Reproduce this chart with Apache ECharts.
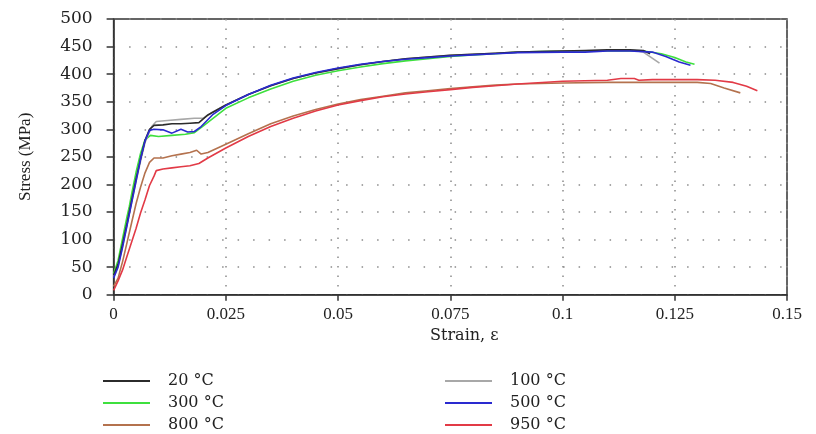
<!DOCTYPE html>
<html>
<head>
<meta charset="utf-8">
<script src="https://cdn.jsdelivr.net/npm/echarts@6/dist/echarts.min.js"></script>
<style>
html,body{margin:0;padding:0;background:#fff;}
#chart{width:816px;height:434px;}
</style>
</head>
<body>
<div id="chart"></div>
<script>
// ---- data (strain, stress MPa) ----
var seriesNames = ['20 °C', '100 °C', '300 °C', '500 °C', '800 °C', '950 °C'];
var seriesColors = ['#2b2b2b', '#a8a8a8', '#3ee03e', '#2a2ad0', '#b4724e', '#e23a46'];

var s20 = [[0,35],[0.001,55],[0.002,92],[0.003,130],[0.004,170],[0.005,210],[0.006,246],[0.007,280],[0.008,300],[0.009,307],[0.011,308],[0.013,310],[0.015,310],[0.017,311],[0.019,312],[0.021,326],[0.025,344],[0.03,363],[0.035,379],[0.04,392],[0.045,402],[0.05,410],[0.055,417],[0.06,423],[0.065,428],[0.07,431],[0.075,434],[0.08,436],[0.085,438],[0.09,440],[0.095,441],[0.1,442],[0.105,443],[0.11,444],[0.115,444],[0.118,443],[0.1195,437]];
var s100 = [[0,33],[0.001,52],[0.002,88],[0.003,127],[0.004,166],[0.005,205],[0.006,242],[0.007,276],[0.0085,305],[0.0095,314],[0.012,316],[0.015,318],[0.018,320],[0.02,320],[0.022,331],[0.025,344],[0.03,363],[0.035,379],[0.04,392],[0.045,402],[0.05,410],[0.055,417],[0.06,423],[0.065,428],[0.07,431],[0.075,434],[0.08,436],[0.085,438],[0.09,440],[0.1,442],[0.11,443],[0.116,443],[0.118,440],[0.1216,420]];
var s300 = [[0,38],[0.001,62],[0.002,102],[0.003,142],[0.0035,160],[0.004,182],[0.005,222],[0.006,256],[0.007,281],[0.0082,289],[0.01,287],[0.013,289],[0.016,291],[0.018,294],[0.02,306],[0.025,338],[0.03,357],[0.035,373],[0.04,387],[0.045,398],[0.05,406],[0.055,413],[0.06,419],[0.065,424],[0.07,428],[0.075,432],[0.08,435],[0.085,437],[0.09,440],[0.1,442],[0.11,442],[0.118,442],[0.122,437],[0.125,430],[0.1275,422],[0.1294,418]];
var s500 = [[0,30],[0.001,50],[0.002,86],[0.003,126],[0.004,166],[0.005,206],[0.006,246],[0.007,279],[0.008,298],[0.009,300],[0.011,299],[0.013,293],[0.015,300],[0.0165,295],[0.018,296],[0.0195,305],[0.022,326],[0.025,343],[0.03,363],[0.035,380],[0.04,393],[0.045,403],[0.05,411],[0.055,418],[0.06,423],[0.065,427],[0.07,430],[0.075,433],[0.08,435],[0.085,437],[0.09,439],[0.1,440],[0.105,440],[0.11,442],[0.115,442],[0.12,440],[0.123,432],[0.126,422],[0.1285,416]];
var s800 = [[0,15],[0.001,30],[0.002,60],[0.003,95],[0.004,130],[0.005,165],[0.006,195],[0.007,221],[0.008,240],[0.009,248],[0.011,248],[0.013,252],[0.015,255],[0.017,258],[0.0185,262],[0.0195,255],[0.021,258],[0.025,273],[0.03,292],[0.035,310],[0.04,324],[0.045,336],[0.05,346],[0.055,354],[0.06,360],[0.065,366],[0.07,370],[0.075,374],[0.08,377],[0.085,380],[0.09,382],[0.1,384],[0.11,385],[0.12,385],[0.13,385],[0.133,383],[0.136,375],[0.1396,366]];
var s950 = [[0,8],[0.001,25],[0.002,45],[0.003,70],[0.004,95],[0.005,120],[0.006,148],[0.007,172],[0.008,198],[0.009,215],[0.0095,225],[0.011,228],[0.013,230],[0.015,232],[0.017,234],[0.019,238],[0.021,248],[0.025,266],[0.03,287],[0.035,305],[0.04,320],[0.045,333],[0.05,344],[0.055,352],[0.06,359],[0.065,364],[0.07,368],[0.075,372],[0.08,376],[0.085,379],[0.09,382],[0.1,387],[0.11,389],[0.113,392],[0.116,392],[0.117,389],[0.12,390],[0.125,390],[0.13,390],[0.134,389],[0.138,385],[0.141,378],[0.1434,370]];

var xTickLabels = ['0', '0.025', '0.05', '0.075', '0.1', '0.125', '0.15'];
var yTickLabels = ['0','50','100','150','200','250','300','350','400','450','500'];

var dataByName = {'20 °C': s20, '100 °C': s100, '300 °C': s300, '500 °C': s500, '800 °C': s800, '950 °C': s950};
var drawOrder = ['300 °C', '100 °C', '20 °C', '500 °C', '800 °C', '950 °C'];

var chart = echarts.init(document.getElementById('chart'), null, {renderer: 'canvas'});

var series = drawOrder.map(function (n) {
  var idx = seriesNames.indexOf(n);
  return {
    name: n,
    type: 'line',
    data: dataByName[n],
    symbol: 'none',
    showSymbol: false,
    smooth: false,
    animation: false,
    color: seriesColors[idx],
    lineStyle: {width: 1.6, color: seriesColors[idx]}
  };
});

function legendCfg(names, left) {
  return {
    orient: 'vertical',
    left: left,
    top: 373,
    height: 61,
    padding: 0,
    data: names,
    icon: 'rect',
    itemWidth: 47,
    itemHeight: 2,
    itemGap: 6,
    textStyle: {fontFamily: 'DejaVu Serif', fontSize: 16, color: '#222', lineHeight: 16, padding: [0, 0, 0, 13]},
    selectedMode: false
  };
}

chart.setOption({
  animation: false,
  backgroundColor: '#fff',
  grid: {left: 113.6, right: 29, top: 19, bottom: 139.3, show: true, borderColor: '#333', borderWidth: 1.5, containLabel: false},
  legend: [
    legendCfg(['20 °C', '300 °C', '800 °C'], 103),
    legendCfg(['100 °C', '500 °C', '950 °C'], 445)
  ],
  xAxis: {
    type: 'value', min: 0, max: 0.15, interval: 0.025,
    name: 'Strain, ε', nameLocation: 'middle', nameGap: 30,
    nameTextStyle: {fontFamily: 'DejaVu Serif', fontSize: 16, color: '#222', padding: [0, 0, 0, 28]},
    axisLine: {show: true, onZero: false, lineStyle: {color: '#333', width: 1.5}},
    axisTick: {show: true, length: 6, lineStyle: {color: '#333', width: 1.5}},
    axisLabel: {margin: 11, fontFamily: 'Liberation Serif', fontSize: 17, color: '#222',
      formatter: function (v) { return xTickLabels[Math.round(v / 0.025)]; }},
    splitLine: {show: true, lineStyle: {color: '#8a8a8a', width: 1.5, type: [1.5, 8]}}
  },
  yAxis: {
    type: 'value', min: 0, max: 500, interval: 50,
    name: 'Stress (MPa)', nameLocation: 'middle', nameGap: 80,
    nameTextStyle: {fontFamily: 'Liberation Serif', fontSize: 17, color: '#222'},
    axisLine: {show: true, onZero: false, lineStyle: {color: '#333', width: 1.5}},
    axisTick: {show: true, length: 7, lineStyle: {color: '#333', width: 1.5}},
    axisLabel: {margin: 21, fontFamily: 'DejaVu Serif', fontSize: 17, color: '#222',
      formatter: function (v) { return yTickLabels[Math.round(v / 50)]; }},
    splitLine: {show: true, lineStyle: {color: '#8a8a8a', width: 1.5, type: [1.5, 14]}}
  },
  series: series
});
</script>
</body>
</html>
